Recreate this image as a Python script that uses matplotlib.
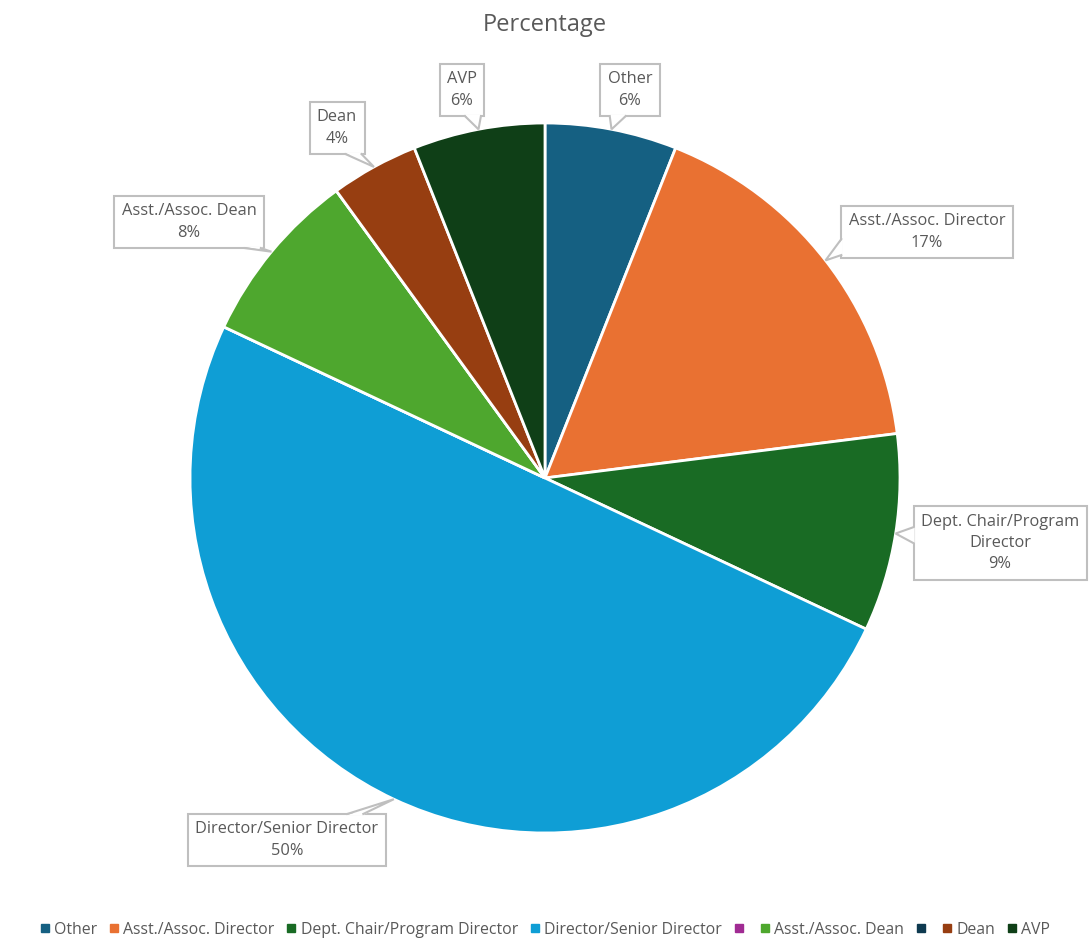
import matplotlib
matplotlib.use("Agg")
import matplotlib.pyplot as plt
from matplotlib.lines import Line2D
from matplotlib.patches import Polygon
import numpy as np

plt.rcParams['font.family'] = ['Open Sans', 'DejaVu Sans']

categories = ["Other", "Asst./Assoc. Director", "Dept. Chair/Program Director",
              "Director/Senior Director", "", "Asst./Assoc. Dean", "", "Dean", "AVP"]
values = [6, 17, 9, 50, 0, 8, 0, 4, 6]
colors = ["#156082", "#E97132", "#196B24", "#0F9ED5", "#A02B93",
          "#4EA72E", "#0E3A50", "#973E11", "#0F3F17"]
label_texts = ["Other\n6%", "Asst./Assoc. Director\n17%", "Dept. Chair/Program\nDirector\n9%",
               "Director/Senior Director\n50%", "", "Asst./Assoc. Dean\n8%", "", "Dean\n4%", "AVP\n6%"]
# label box centres in pixels (from top-left)
label_pos = [(630, 90), (927, 232), (1000, 543), (287, 840), None, (189, 222), None, (337, 128), (462, 90)]

W, H = 1090, 952
fig = plt.figure(figsize=(W / 100, H / 100), dpi=100)
cx, cy, R = 545, 478, 355
ax = fig.add_axes([(cx - R) / W, 1 - (cy + R) / H, 2 * R / W, 2 * R / H])
wedges, _ = ax.pie(values, colors=colors, startangle=90, counterclock=False,
                   radius=1, wedgeprops=dict(edgecolor="white", linewidth=2))
ax.set_xlim(-1, 1)
ax.set_ylim(-1, 1)
ax.set_aspect('auto')
ax.axis('off')

grey = "#595959"
edge = "#BFBFBF"
total = sum(values)
cum = 0
anns = []
for v, t, pos in zip(values, label_texts, label_pos):
    mid = cum + v / 2
    cum += v
    if v == 0 or pos is None:
        continue
    ang = np.deg2rad(90 - 360 * mid / total)
    xy = (np.cos(ang), np.sin(ang))
    a = ax.annotate(t, xy=xy, xytext=(pos[0], H - pos[1]), textcoords='figure pixels',
                    ha='center', va='center', fontsize=11.8, color=grey, linespacing=1.45,
                    bbox=dict(boxstyle='square,pad=0.45', fc='white', ec=edge, lw=1.5),
                    annotation_clip=False, zorder=5)
    anns.append((a, xy))

fig.canvas.draw()
for a, xy in anns:
    bb = a.get_bbox_patch().get_window_extent()
    tx, ty = ax.transData.transform(xy)
    bcx, bcy = (bb.x0 + bb.x1) / 2, (bb.y0 + bb.y1) / 2
    hw, hh = bb.width / 2, bb.height / 2
    dx, dy = tx - bcx, ty - bcy
    tX = hw / abs(dx) if dx != 0 else np.inf
    tY = hh / abs(dy) if dy != 0 else np.inf
    half = 8
    if tY <= tX:
        ey = bb.y1 if dy > 0 else bb.y0
        px = bcx + dx * tY
        px = min(max(px, bb.x0 + half + 3), bb.x1 - half - 3)
        b1, b2 = (px - half, ey), (px + half, ey)
        inset = (0, -1.2 if dy > 0 else 1.2)
    else:
        ex = bb.x1 if dx > 0 else bb.x0
        py = bcy + dy * tX
        py = min(max(py, bb.y0 + half + 3), bb.y1 - half - 3)
        b1, b2 = (ex, py - half), (ex, py + half)
        inset = (-1.2 if dx > 0 else 1.2, 0)
    pts = np.array([b1, (tx, ty), b2])
    fillpts = np.array([(b1[0] + inset[0], b1[1] + inset[1]), (tx, ty),
                        (b2[0] + inset[0], b2[1] + inset[1])])
    f = Polygon(fillpts / [W, H], closed=True, fc='white', ec='none',
                transform=fig.transFigure, zorder=6)
    e = Line2D(pts[:, 0] / W, pts[:, 1] / H, color=edge, lw=1.5,
               transform=fig.transFigure, zorder=7, solid_joinstyle='miter')
    fig.add_artist(f)
    fig.add_artist(e)

fig.text(cx / W, 1 - 25 / H, "Percentage", ha='center', va='center', fontsize=17, color=grey)

handles = [Line2D([], [], marker='s', linestyle='', markersize=6, markerfacecolor=c,
                  markeredgecolor=c) for c in colors]
fig.legend(handles, categories, loc='center', bbox_to_anchor=(0.5, 1 - 930 / H), ncol=9,
           frameon=False, fontsize=11.4, labelcolor=grey, handlelength=0.6, handletextpad=0.3,
           columnspacing=0.75)

fig.savefig("out.png", dpi=100)
